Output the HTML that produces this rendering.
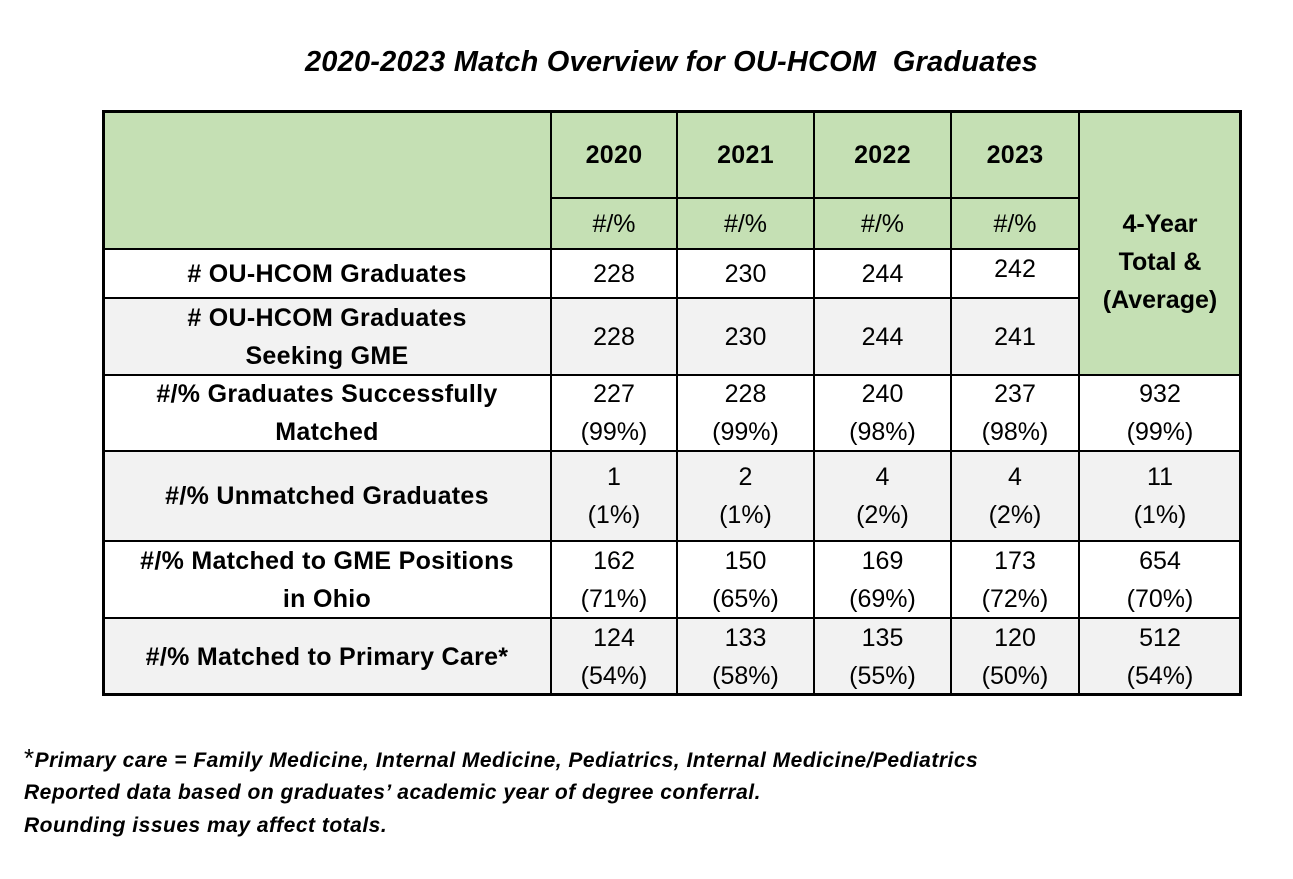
<!DOCTYPE html>
<html><head><meta charset="utf-8"><style>
body{margin:0;width:1293px;height:879px;background:#fff;position:relative;font-family:"Liberation Sans",sans-serif;color:#000;overflow:hidden}
.c{position:absolute;display:flex;align-items:center;justify-content:center;text-align:center;font-size:25px;line-height:38px;box-sizing:border-box;white-space:nowrap}
.b{font-weight:bold;font-size:25px;letter-spacing:0.3px}
.h{position:absolute;background:#000}
.t{position:absolute;font-style:italic;font-weight:bold;font-size:21px;white-space:nowrap}
.f{letter-spacing:0.5px}
</style></head><body>
<div class="t" style="left:0;width:1343px;top:46px;text-align:center;font-size:29px;letter-spacing:0.2px">2020-2023 Match Overview for OU-HCOM&nbsp; Graduates</div>

<div style="position:absolute;left:103px;top:111px;width:1138px;height:138px;background:#c5e0b4"></div>
<div style="position:absolute;left:1079px;top:249px;width:162px;height:126px;background:#c5e0b4"></div>
<div style="position:absolute;left:103px;top:298px;width:976px;height:77px;background:#f2f2f2"></div>
<div style="position:absolute;left:103px;top:451px;width:1138px;height:90px;background:#f2f2f2"></div>
<div style="position:absolute;left:103px;top:618px;width:1138px;height:77px;background:#f2f2f2"></div>

<div class="h" style="left:102px;top:110px;width:1140px;height:3px"></div>
<div class="h" style="left:102px;top:693px;width:1140px;height:3px"></div>
<div class="h" style="left:102px;top:110px;width:3px;height:586px"></div>
<div class="h" style="left:1239px;top:110px;width:3px;height:586px"></div>
<div class="h" style="left:550px;top:110px;width:2px;height:586px"></div>
<div class="h" style="left:676px;top:110px;width:2px;height:586px"></div>
<div class="h" style="left:813px;top:110px;width:2px;height:586px"></div>
<div class="h" style="left:950px;top:110px;width:2px;height:586px"></div>
<div class="h" style="left:1078px;top:110px;width:2px;height:586px"></div>
<div class="h" style="left:551px;top:197px;width:528px;height:2px"></div>
<div class="h" style="left:103px;top:248px;width:976px;height:2px"></div>
<div class="h" style="left:103px;top:297px;width:976px;height:2px"></div>
<div class="h" style="left:103px;top:374px;width:1138px;height:2px"></div>
<div class="h" style="left:103px;top:450px;width:1138px;height:2px"></div>
<div class="h" style="left:103px;top:540px;width:1138px;height:2px"></div>
<div class="h" style="left:103px;top:617px;width:1138px;height:2px"></div>

<div class="c b" style="left:551px;width:126px;top:111px;height:87px">2020</div>
<div class="c b" style="left:677px;width:137px;top:111px;height:87px">2021</div>
<div class="c b" style="left:814px;width:137px;top:111px;height:87px">2022</div>
<div class="c b" style="left:951px;width:128px;top:111px;height:87px">2023</div>
<div class="c" style="left:551px;width:126px;top:198px;height:51px">#/%</div>
<div class="c" style="left:677px;width:137px;top:198px;height:51px">#/%</div>
<div class="c" style="left:814px;width:137px;top:198px;height:51px">#/%</div>
<div class="c" style="left:951px;width:128px;top:198px;height:51px">#/%</div>
<div class="c b" style="left:1079px;width:162px;top:200px;height:124px;letter-spacing:0">4-Year<br>Total &amp;<br>(Average)</div>

<div class="c b" style="left:103px;width:448px;top:249px;height:49px">#&nbsp;OU-HCOM Graduates</div>
<div class="c b" style="left:103px;width:448px;top:298px;height:77px">#&nbsp;OU-HCOM Graduates<br>Seeking GME</div>
<div class="c b" style="left:103px;width:448px;top:375px;height:76px">#/% Graduates Successfully<br>Matched</div>
<div class="c b" style="left:103px;width:448px;top:451px;height:90px">#/% Unmatched Graduates</div>
<div class="c b" style="left:103px;width:448px;top:541px;height:77px">#/% Matched to GME Positions<br>in Ohio</div>
<div class="c b" style="left:103px;width:448px;top:618px;height:77px">#/% Matched to Primary Care*</div>

<div class="c" style="left:551px;width:126px;top:249px;height:49px">228</div>
<div class="c" style="left:677px;width:137px;top:249px;height:49px">230</div>
<div class="c" style="left:814px;width:137px;top:249px;height:49px">244</div>
<div class="c" style="left:951px;width:128px;top:249px;height:40px">242</div>
<div class="c" style="left:551px;width:126px;top:298px;height:77px">228</div>
<div class="c" style="left:677px;width:137px;top:298px;height:77px">230</div>
<div class="c" style="left:814px;width:137px;top:298px;height:77px">244</div>
<div class="c" style="left:951px;width:128px;top:298px;height:77px">241</div>

<div class="c" style="left:551px;width:126px;top:375px;height:76px">227<br>(99%)</div>
<div class="c" style="left:677px;width:137px;top:375px;height:76px">228<br>(99%)</div>
<div class="c" style="left:814px;width:137px;top:375px;height:76px">240<br>(98%)</div>
<div class="c" style="left:951px;width:128px;top:375px;height:76px">237<br>(98%)</div>
<div class="c" style="left:1079px;width:162px;top:375px;height:76px">932<br>(99%)</div>

<div class="c" style="left:551px;width:126px;top:451px;height:90px">1<br>(1%)</div>
<div class="c" style="left:677px;width:137px;top:451px;height:90px">2<br>(1%)</div>
<div class="c" style="left:814px;width:137px;top:451px;height:90px">4<br>(2%)</div>
<div class="c" style="left:951px;width:128px;top:451px;height:90px">4<br>(2%)</div>
<div class="c" style="left:1079px;width:162px;top:451px;height:90px">11<br>(1%)</div>

<div class="c" style="left:551px;width:126px;top:541px;height:77px">162<br>(71%)</div>
<div class="c" style="left:677px;width:137px;top:541px;height:77px">150<br>(65%)</div>
<div class="c" style="left:814px;width:137px;top:541px;height:77px">169<br>(69%)</div>
<div class="c" style="left:951px;width:128px;top:541px;height:77px">173<br>(72%)</div>
<div class="c" style="left:1079px;width:162px;top:541px;height:77px">654<br>(70%)</div>

<div class="c" style="left:551px;width:126px;top:618px;height:77px">124<br>(54%)</div>
<div class="c" style="left:677px;width:137px;top:618px;height:77px">133<br>(58%)</div>
<div class="c" style="left:814px;width:137px;top:618px;height:77px">135<br>(55%)</div>
<div class="c" style="left:951px;width:128px;top:618px;height:77px">120<br>(50%)</div>
<div class="c" style="left:1079px;width:162px;top:618px;height:77px">512<br>(54%)</div>

<div class="t f" style="left:24px;top:743px"><span style="font-style:normal;font-weight:normal;font-size:26px">*</span>Primary care = Family Medicine, Internal Medicine, Pediatrics, Internal Medicine/Pediatrics</div>
<div class="t f" style="left:24px;top:781px">Reported data based on graduates’ academic year of degree conferral.</div>
<div class="t f" style="left:24px;top:814px">Rounding issues may affect totals.</div>
</body></html>
